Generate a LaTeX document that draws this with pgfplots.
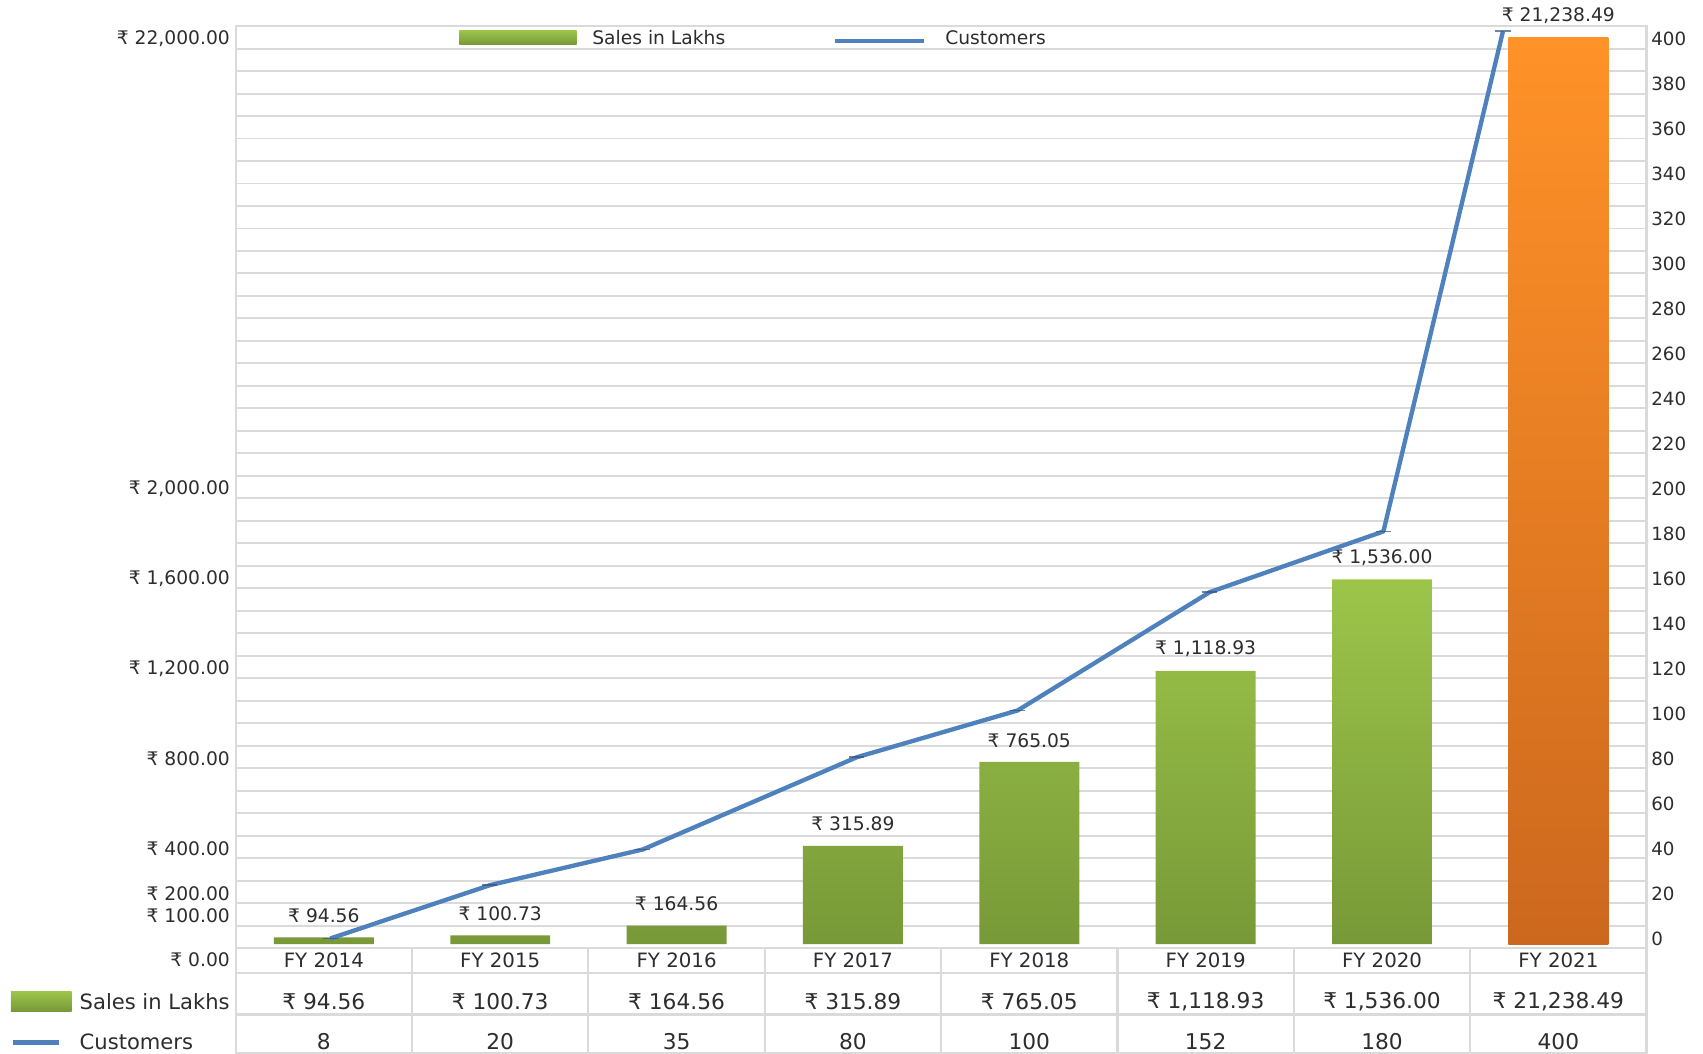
\documentclass[border=0pt]{standalone}
\usepackage{fontspec}
\setmainfont{DejaVu Sans}
\usepackage{pgfplots}
\pgfplotsset{compat=1.18}
\usepackage{pgfplotstable}

\definecolor{gtop}{RGB}{157,197,74}
\definecolor{gbot}{RGB}{120,153,56}
\definecolor{otop}{RGB}{255,146,40}
\definecolor{obot}{RGB}{204,104,30}
\definecolor{custblue}{RGB}{79,129,189}
\definecolor{gridc}{RGB}{218,218,218}
\definecolor{txt}{RGB}{45,45,45}

\pgfplotstableread{
idx sales
0 94.56
1 100.73
2 164.56
3 315.89
4 765.05
5 1118.93
6 1536.00
}\salesgreen

\pgfplotstableread{
idx sales
7 21238.49
}\salesorange

% customers line, as drawn in the picture (x = category position, y = right axis)
\pgfplotstableread{
pos cust
0.036 4.3
0.941 28.0
1.809 43.9
3.022 84.9
3.934 105.7
5.023 158.3
6.008 185.3
6.686 407.7
}\custline

\pgfplotsset{
  base/.style={
    at={(0,0)}, anchor=south west, scale only axis,
    width=649.5pt, height=424.5pt,
    xmin=-0.5, xmax=7.5,
    xtick=\empty,
    major tick length=0pt, minor tick length=0pt,
    ticklabel style={font=\fontsize{8.6}{10}\selectfont, text=txt},
    /pgf/number format/assume math mode=true,
  },
}

\newcommand{\tlab}{\fontsize{8.6}{10}\selectfont}
\newcommand{\tbig}{\fontsize{10}{12}\selectfont}

\begin{document}
\begin{tikzpicture}[
  % the sales scale of the bars (piecewise, as the chart draws them)
  declare function={salesh(\x)=0.031726*(min(max(\x,0),94.56)-0)
    +0.14587*(min(max(\x,94.56),100.73)-94.56)
    +0.067366*(min(max(\x,100.73),164.56)-100.73)
    +0.234587*(min(max(\x,164.56),315.89)-164.56)
    +0.083044*(min(max(\x,315.89),765.05)-315.89)
    +0.114445*(min(max(\x,765.05),1118.93)-765.05)
    +0.097585*(min(max(\x,1118.93),1536)-1118.93)
    +0.012227*(min(max(\x,1536),21238.49)-1536);},
]
\path[use as bounding box] (-108.5pt,-48.5pt) rectangle (675.5pt,436.5pt);

% grid and left axis
\begin{axis}[base,
  ymin=0, ymax=410,
  axis line style={gridc, line width=1pt},
  ytick={10,20,40,80,120,160,200,400},
  yticklabels={{₹ 100.00},{₹ 200.00},{₹ 400.00},{₹ 800.00},{₹ 1,200.00},{₹ 1,600.00},{₹ 2,000.00},{₹ 22,000.00}},
  yticklabel style={inner sep=0pt, xshift=-2.5pt, yshift=4.5pt, anchor=east},
  minor ytick={0,10,...,410},
  yminorgrids=true,
  minor grid style={gridc, line width=0.9pt},
]
\end{axis}

% bars
\begin{axis}[base,
  ymin=-1.8, ymax=408.2,
  hide axis, clip=false,
  bar width=46pt, bar shift=0pt,
  every node near coord/.append style={anchor=center, yshift=10pt, font=\tlab, text=txt},
]
\addplot[ybar, draw=none, top color=gtop, bottom color=gbot,
  point meta=\thisrow{sales},
  nodes near coords={₹ \pgfmathprintnumber[fixed,fixed zerofill,precision=2,1000 sep={,},assume math mode=true]{\pgfplotspointmeta}}]
  table[x=idx, y expr={salesh(\thisrow{sales})}] {\salesgreen};
\addplot[ybar, draw=none, top color=otop, bottom color=obot,
  point meta=\thisrow{sales},
  nodes near coords={₹ \pgfmathprintnumber[fixed,fixed zerofill,precision=2,1000 sep={,},assume math mode=true]{\pgfplotspointmeta}}]
  table[x=idx, y expr={salesh(\thisrow{sales})}] {\salesorange};
\end{axis}

% customers line and right axis
\begin{axis}[base,
  ymin=0, ymax=410,
  axis line style={draw=none},
  ytick={0,20,...,400},
  yticklabel pos=right,
  yticklabel style={inner sep=0pt, xshift=2pt, yshift=4.5pt, anchor=west, font=\fontsize{8.4}{10}\selectfont},
  clip=false,
]
\addplot[custblue, line width=2pt, line join=round,
  mark=-, mark size=3.5pt, mark options={draw=custblue!65!black, line width=0.8pt, opacity=0.7}]
  table[x=pos, y=cust] {\custline};
\end{axis}

% legend and data table, in picture pixels
\begin{scope}[x=0.5pt, y=-0.5pt, shift={(-108.5pt,436.5pt)}]
  \node[anchor=east, inner sep=0pt, font=\tlab, text=txt] at (212,884) {₹ 0.00};
  % top legend
  \shade[top color=gtop, bottom color=gbot] (423,28) rectangle (531,41);
  \node[anchor=west, inner sep=0pt, font=\tlab, text=txt] at (545,35) {Sales in Lakhs};
  \draw[custblue, line width=2pt] (769,38) -- (851,38);
  \node[anchor=west, inner sep=0pt, font=\tlab, text=txt] at (870,35) {Customers};
  % table rules
  \draw[gridc, line width=1pt] (217,896) -- (1516,896);
  \draw[gridc, line width=1pt] (217,934) -- (1516,934);
  \draw[gridc, line width=1pt] (217,969.5) -- (1516,969.5);
  \foreach \k in {0,...,8}
    \draw[gridc, line width=1pt] (217+162.375*\k,873) -- (217+162.375*\k,970);
  % table text
  \foreach \lab [count=\i from 0] in {FY 2014,FY 2015,FY 2016,FY 2017,FY 2018,FY 2019,FY 2020,FY 2021}
    \node[font=\fontsize{9.1}{11}\selectfont, text=txt] at (298.2+162.375*\i,884) {\lab};
  \foreach \lab [count=\i from 0] in {{₹ 94.56},{₹ 100.73},{₹ 164.56},{₹ 315.89},{₹ 765.05},{₹ 1,118.93},{₹ 1,536.00},{₹ 21,238.49}}
    \node[font=\tbig, text=txt] at (298.2+162.375*\i,922) {\lab};
  \foreach \lab [count=\i from 0] in {8,20,35,80,100,152,180,400}
    \node[font=\tbig, text=txt] at (298.2+162.375*\i,959) {\lab};
  % table legend
  \shade[top color=gtop, bottom color=gbot] (10,913) rectangle (66,931);
  \node[anchor=west, inner sep=0pt, font=\fontsize{9.7}{11}\selectfont, text=txt] at (73,922) {Sales in Lakhs};
  \draw[custblue, line width=2pt] (12,960) -- (54,960);
  \node[anchor=west, inner sep=0pt, font=\fontsize{9.7}{11}\selectfont, text=txt] at (73,959) {Customers};
\end{scope}
\end{tikzpicture}
\end{document}
